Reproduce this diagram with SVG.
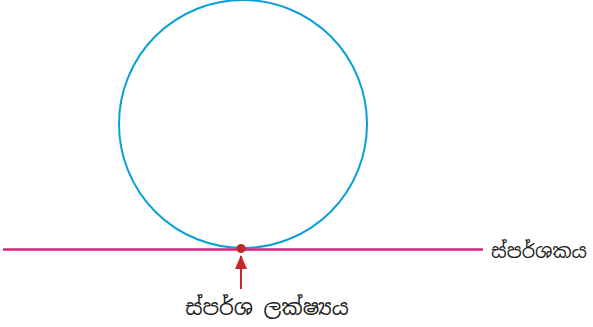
<svg xmlns="http://www.w3.org/2000/svg" width="593" height="327" viewBox="0 0 593 327">
<style>
.lbl{font-family:"Noto Sans Sinhala","Noto Serif Sinhala","Noto Sans",sans-serif;font-size:21px;fill:#231f20}
.sm{font-size:19px}
</style>
<defs>
<marker id="ah" markerWidth="14" markerHeight="12" refX="13" refY="6" orient="auto" markerUnits="userSpaceOnUse">
<path d="M0,0 L14,6 L0,12 Z" fill="#c1272d"/>
</marker>
</defs>
<rect width="593" height="327" fill="#fff"/>
<g id="circle"><circle cx="243" cy="124" r="124" fill="none" stroke="#0a9fd8" stroke-width="2"/></g>
<g id="tangent">
<line x1="3" y1="249.5" x2="483" y2="249.5" stroke="#d4237a" stroke-width="2.5"/>
<text class="lbl sm" x="491" y="258">ස්පර්ශකය</text>
</g>
<g id="point">
<circle cx="241" cy="248.5" r="4.5" fill="#c1272d"/>
<text class="lbl" x="267" y="315" text-anchor="middle">ස්පර්ශ ලක්ෂ්‍යය</text>
</g>
<g id="connectors">
<line x1="241" y1="289" x2="241" y2="256" stroke="#c1272d" stroke-width="2" marker-end="url(#ah)"/>
</g>
</svg>
